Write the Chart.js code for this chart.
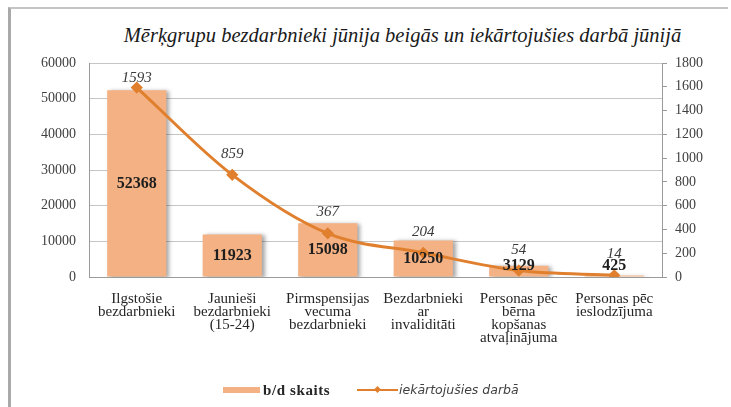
<!DOCTYPE html>
<html>
<head>
<meta charset="utf-8">
<script src="https://cdn.jsdelivr.net/npm/chart.js@4"></script>
<style>
  html, body { margin: 0; padding: 0; background: #fff; }
  #wrap { position: relative; width: 731px; height: 407px; overflow: hidden; }
  #frame { position: absolute; left: 8px; top: 7px; right: 3px; bottom: -5px;
           border-left: 3px solid #a9a9a9; border-top: 2px solid #c4c4c4; }
  #title { position: absolute; left: 0; top: 22px; width: 731px; text-align: center; padding-left: 74px; box-sizing: border-box;
           font-family: 'Liberation Serif', serif; font-style: italic; font-size: 20.5px; line-height: 26px; color: #1a1a1a; white-space: nowrap; }
  #chart { position: absolute; left: 0; top: 0; }
  #legend { position: absolute; left: 0; top: 381px; width: 731px; height: 18px; }
  .lg { position: absolute; top: 0; line-height: 18px; color: #262626; white-space: nowrap; }
  .sw { position: absolute; }
</style>
</head>
<body>
<div id="wrap">
  <div id="frame"></div>
  <div id="title">Mērķgrupu bezdarbnieki jūnija beigās un iekārtojušies darbā jūnijā</div>
  <canvas id="chart" width="731" height="407"></canvas>
  <div id="legend">
    <div class="sw" style="left:223px; top:6px; width:37px; height:6px; background:#F4B183;"></div>
    <div class="lg" style="left:263px; font-family:'Liberation Serif', serif; font-weight:bold; font-size:15px; letter-spacing:0.6px;">b/d skaits</div>
    <div class="sw" style="left:357px; top:8px; width:41px; height:2px; background:#E0802E;"></div>
    <div class="sw" style="left:375px; top:6px; width:5px; height:5px; background:#E0802E; transform:rotate(45deg);"></div>
    <div class="lg" style="left:399px; font-family:'DejaVu Sans', sans-serif; font-style:italic; font-size:12.5px; color:#404040;">iekārtojušies darbā</div>
  </div>
</div>
<script>
// Chart data
const categories = [
    ['Ilgstošie', 'bezdarbnieki'],
    ['Jaunieši', 'bezdarbnieki', '(15-24)'],
    ['Pirmspensijas', 'vecuma', 'bezdarbnieki'],
    ['Bezdarbnieki', 'ar', 'invaliditāti'],
    ['Personas pēc', 'bērna', 'kopšanas', 'atvaļinājuma'],
    ['Personas pēc', 'ieslodzījuma']
];
const unemployed = [52368, 11923, 15098, 10250, 3129, 425];
const employed = [1593, 859, 367, 204, 54, 14];

const leftTicks = { min: 0, max: 60000, step: 10000 };
const rightTicks = { min: 0, max: 1800, step: 200 };

const barColor = '#F4B183';
const lineColor = '#E0802E';
const serif = "'Liberation Serif', serif";

// bar shadow + value labels
const labelsPlugin = {
    id: 'valueLabels',
    beforeDatasetDraw(chart, args) {
        if (args.index === 0) {
            const ctx = chart.ctx;
            ctx.save();
            ctx.shadowColor = 'rgba(0,0,0,0.35)';
            ctx.shadowOffsetX = 3;
            ctx.shadowOffsetY = 1;
            ctx.shadowBlur = 4;
        }
    },
    afterDatasetDraw(chart, args) {
        if (args.index === 0) chart.ctx.restore();
    },
    afterDatasetsDraw(chart) {
        const ctx = chart.ctx;
        const area = chart.chartArea;
        ctx.save();
        ctx.textAlign = 'center';
        ctx.textBaseline = 'middle';

        const bars = chart.getDatasetMeta(0).data;
        ctx.font = 'bold 16px ' + serif;
        ctx.fillStyle = '#1e1e1e';
        bars.forEach((el, i) => {
            const y = Math.min((el.y + el.base) / 2, el.base - 11);
            ctx.fillText(unemployed[i], el.x, y);
        });

        const pts = chart.getDatasetMeta(1).data;
        ctx.font = 'italic 15px ' + serif;
        ctx.fillStyle = '#3a3a3a';
        pts.forEach((el, i) => {
            const y = Math.max(el.y - 21, area.top + 15);
            ctx.fillText(employed[i], el.x, y);
        });
        ctx.restore();
    }
};

const plainNumber = value => String(value);

const config = {
    data: {
        labels: categories,
        datasets: [
            {
                type: 'bar',
                label: 'b/d skaits',
                data: unemployed,
                backgroundColor: barColor,
                yAxisID: 'y',
                barPercentage: 0.62,
                categoryPercentage: 1,
                order: 2
            },
            {
                type: 'line',
                label: 'iekārtojušies darbā',
                data: employed,
                borderColor: lineColor,
                backgroundColor: lineColor,
                borderWidth: 3,
                pointStyle: 'rectRot',
                pointRadius: 4,
                cubicInterpolationMode: 'monotone',
                yAxisID: 'y1',
                order: 1
            }
        ]
    },
    options: {
        responsive: false,
        animation: false,
        layout: { padding: { left: 10, right: 0, top: 63, bottom: 40 } },
        plugins: {
            legend: { display: false },
            tooltip: { enabled: false }
        },
        scales: {
            x: {
                grid: { display: false },
                border: { color: '#9a9a9a' },
                ticks: {
                    color: '#262626',
                    font: { family: serif, size: 15, lineHeight: 0.85 },
                    maxRotation: 0,
                    autoSkip: false,
                    padding: 8
                },
                afterFit(scale) { scale.height = 90; }
            },
            y: {
                position: 'left',
                min: leftTicks.min,
                max: leftTicks.max,
                ticks: {
                    stepSize: leftTicks.step,
                    callback: plainNumber,
                    color: '#404040',
                    font: { family: serif, size: 14 },
                    padding: 13
                },
                grid: { color: '#c6c6c6', drawTicks: false },
                border: { color: '#9a9a9a' },
                afterFit(scale) { scale.width = 79; }
            },
            y1: {
                position: 'right',
                min: rightTicks.min,
                max: rightTicks.max,
                ticks: {
                    stepSize: rightTicks.step,
                    callback: plainNumber,
                    color: '#404040',
                    font: { family: serif, size: 14 },
                    padding: 8
                },
                grid: { drawOnChartArea: false, tickLength: 5, color: '#9a9a9a' },
                border: { color: '#9a9a9a' },
                afterFit(scale) { scale.width = 69; }
            }
        }
    },
    plugins: [labelsPlugin]
};

new Chart(document.getElementById('chart').getContext('2d'), config);
</script>
</body>
</html>
